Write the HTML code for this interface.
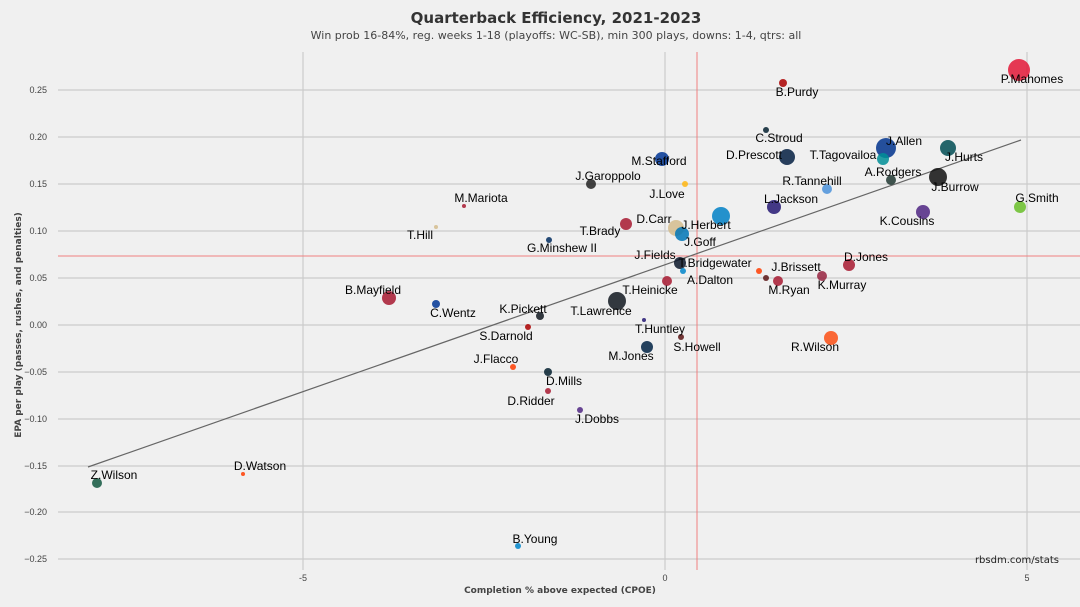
<!DOCTYPE html>
<html><head><meta charset="utf-8"><style>
html,body{margin:0;padding:0;background:#f0f0f0}
svg{display:block}
text{font-family:"Liberation Sans","DejaVu Sans",sans-serif}
.dv{font-family:"DejaVu Sans","Liberation Sans",sans-serif}
</style></head><body>
<svg width="1080" height="607" viewBox="0 0 1080 607" xmlns="http://www.w3.org/2000/svg">
<rect width="1080" height="607" fill="#f0f0f0"/>
<g stroke="#cbcbcb" stroke-width="1.2">
<line x1="58" x2="1080" y1="90" y2="90"/><line x1="58" x2="1080" y1="137" y2="137"/>
<line x1="58" x2="1080" y1="184" y2="184"/><line x1="58" x2="1080" y1="231" y2="231"/>
<line x1="58" x2="1080" y1="278" y2="278"/><line x1="58" x2="1080" y1="325" y2="325"/>
<line x1="58" x2="1080" y1="372" y2="372"/><line x1="58" x2="1080" y1="419" y2="419"/>
<line x1="58" x2="1080" y1="466" y2="466"/><line x1="58" x2="1080" y1="512" y2="512"/>
<line x1="58" x2="1080" y1="559" y2="559"/>
<line x1="303" x2="303" y1="52" y2="570"/><line x1="665" x2="665" y1="52" y2="570"/><line x1="1027" x2="1027" y1="52" y2="570"/>
</g>
<line x1="697" x2="697" y1="52" y2="570" stroke="#f08080" stroke-width="1"/>
<line x1="58" x2="1080" y1="256" y2="256" stroke="#f08080" stroke-width="1"/>
<line x1="88" y1="467" x2="1021" y2="140" stroke="#666" stroke-width="1.2"/>
<g class="dv" font-size="9" fill="#444" text-anchor="end">
<text x="47" y="93">0.25</text><text x="47" y="140">0.20</text><text x="47" y="187">0.15</text>
<text x="47" y="234">0.10</text><text x="47" y="281">0.05</text><text x="47" y="328">0.00</text>
<text x="47" y="375">−0.05</text><text x="47" y="422">−0.10</text><text x="47" y="469">−0.15</text>
<text x="47" y="515">−0.20</text><text x="47" y="562">−0.25</text>
</g>
<g class="dv" font-size="9" fill="#444" text-anchor="middle">
<text x="303" y="581">-5</text><text x="665" y="581">0</text><text x="1027" y="581">5</text>
</g>
<text class="dv" x="560" y="593" font-size="9" font-weight="bold" fill="#444" text-anchor="middle">Completion % above expected (CPOE)</text>
<text class="dv" transform="translate(21,325) rotate(-90)" font-size="9" font-weight="bold" fill="#444" text-anchor="middle">EPA per play (passes, rushes, and penalties)</text>
<text class="dv" x="556" y="23" font-size="15" font-weight="bold" fill="#333" text-anchor="middle">Quarterback Efficiency, 2021-2023</text>
<text class="dv" x="556" y="39" font-size="11" fill="#444" text-anchor="middle">Win prob 16-84%, reg. weeks 1-18 (playoffs: WC-SB), min 300 plays, downs: 1-4, qtrs: all</text>
<text class="dv" x="1059" y="563" font-size="10" fill="#222" text-anchor="end">rbsdm.com/stats</text>
<g fill-opacity="0.85">
<circle cx="783" cy="83" r="4" fill="#aa0000"/>
<circle cx="1019" cy="70" r="11" fill="#e31837"/>
<circle cx="766" cy="130" r="3" fill="#03202f"/>
<circle cx="886" cy="148" r="10" fill="#00338d"/>
<circle cx="948" cy="148" r="8" fill="#004c54"/>
<circle cx="787" cy="157" r="8" fill="#041e42"/>
<circle cx="883" cy="159" r="6" fill="#008e97"/>
<circle cx="662" cy="159" r="7" fill="#003594"/>
<circle cx="827" cy="189" r="5" fill="#4b92db"/>
<circle cx="891" cy="180" r="5" fill="#203731"/>
<circle cx="938" cy="177" r="9" fill="#101010"/>
<circle cx="1020" cy="207" r="6" fill="#69be28"/>
<circle cx="591" cy="184" r="5" fill="#222"/>
<circle cx="685" cy="184" r="3" fill="#ffb612"/>
<circle cx="464" cy="206" r="2" fill="#a71930"/>
<circle cx="774" cy="207" r="7" fill="#241773"/>
<circle cx="923" cy="212" r="7" fill="#4f2683"/>
<circle cx="436" cy="227" r="2" fill="#d3bc8d"/>
<circle cx="626" cy="224" r="6" fill="#a71930"/>
<circle cx="676" cy="228" r="8" fill="#d3bc8d"/>
<circle cx="721" cy="216" r="9" fill="#0080c6"/>
<circle cx="682" cy="234" r="7" fill="#0076b6"/>
<circle cx="549" cy="240" r="3" fill="#002c5f"/>
<circle cx="680" cy="263" r="6" fill="#0b162a"/>
<circle cx="683" cy="271" r="3" fill="#0085ca"/>
<circle cx="759" cy="271" r="3" fill="#ff3c00"/>
<circle cx="849" cy="265" r="6" fill="#a71930"/>
<circle cx="667" cy="281" r="5" fill="#a71930"/>
<circle cx="766" cy="278" r="3" fill="#5a1414"/>
<circle cx="778" cy="281" r="5" fill="#a71930"/>
<circle cx="822" cy="276" r="5" fill="#97233f"/>
<circle cx="389" cy="298" r="7" fill="#a71930"/>
<circle cx="436" cy="304" r="4" fill="#003594"/>
<circle cx="540" cy="316" r="4" fill="#101820"/>
<circle cx="617" cy="301" r="9" fill="#101820"/>
<circle cx="644" cy="320" r="2" fill="#241773"/>
<circle cx="528" cy="327" r="3" fill="#aa0000"/>
<circle cx="647" cy="347" r="6" fill="#002244"/>
<circle cx="681" cy="337" r="3" fill="#5a1414"/>
<circle cx="831" cy="338" r="7" fill="#fb4f14"/>
<circle cx="513" cy="367" r="3" fill="#ff3c00"/>
<circle cx="548" cy="372" r="4" fill="#03202f"/>
<circle cx="548" cy="391" r="3" fill="#a71930"/>
<circle cx="580" cy="410" r="3" fill="#4f2683"/>
<circle cx="97" cy="483" r="5" fill="#125740"/>
<circle cx="243" cy="474" r="2" fill="#ff3c00"/>
<circle cx="518" cy="546" r="3" fill="#0085ca"/>
</g>
<g font-size="12" fill="#000" text-anchor="middle">
<text x="797" y="96">B.Purdy</text>
<text x="1032" y="83">P.Mahomes</text>
<text x="779" y="142">C.Stroud</text>
<text x="904" y="145">J.Allen</text>
<text x="964" y="161">J.Hurts</text>
<text x="754" y="159">D.Prescott</text>
<text x="843" y="159">T.Tagovailoa</text>
<text x="659" y="165">M.Stafford</text>
<text x="812" y="185">R.Tannehill</text>
<text x="893" y="176">A.Rodgers</text>
<text x="955" y="191">J.Burrow</text>
<text x="1037" y="202">G.Smith</text>
<text x="608" y="180">J.Garoppolo</text>
<text x="667" y="198">J.Love</text>
<text x="481" y="202">M.Mariota</text>
<text x="791" y="203">L.Jackson</text>
<text x="907" y="225">K.Cousins</text>
<text x="420" y="239">T.Hill</text>
<text x="654" y="223">D.Carr</text>
<text x="600" y="235">T.Brady</text>
<text x="706" y="229">J.Herbert</text>
<text x="700" y="246">J.Goff</text>
<text x="562" y="252">G.Minshew II</text>
<text x="655" y="259">J.Fields</text>
<text x="715" y="267">T.Bridgewater</text>
<text x="796" y="271">J.Brissett</text>
<text x="866" y="261">D.Jones</text>
<text x="650" y="294">T.Heinicke</text>
<text x="710" y="284">A.Dalton</text>
<text x="789" y="294">M.Ryan</text>
<text x="842" y="289">K.Murray</text>
<text x="373" y="294">B.Mayfield</text>
<text x="453" y="317">C.Wentz</text>
<text x="523" y="313">K.Pickett</text>
<text x="601" y="315">T.Lawrence</text>
<text x="660" y="333">T.Huntley</text>
<text x="506" y="340">S.Darnold</text>
<text x="631" y="360">M.Jones</text>
<text x="697" y="351">S.Howell</text>
<text x="815" y="351">R.Wilson</text>
<text x="496" y="363">J.Flacco</text>
<text x="564" y="385">D.Mills</text>
<text x="531" y="405">D.Ridder</text>
<text x="597" y="423">J.Dobbs</text>
<text x="114" y="479">Z.Wilson</text>
<text x="260" y="470">D.Watson</text>
<text x="535" y="543">B.Young</text>
</g>
</svg>
</body></html>
